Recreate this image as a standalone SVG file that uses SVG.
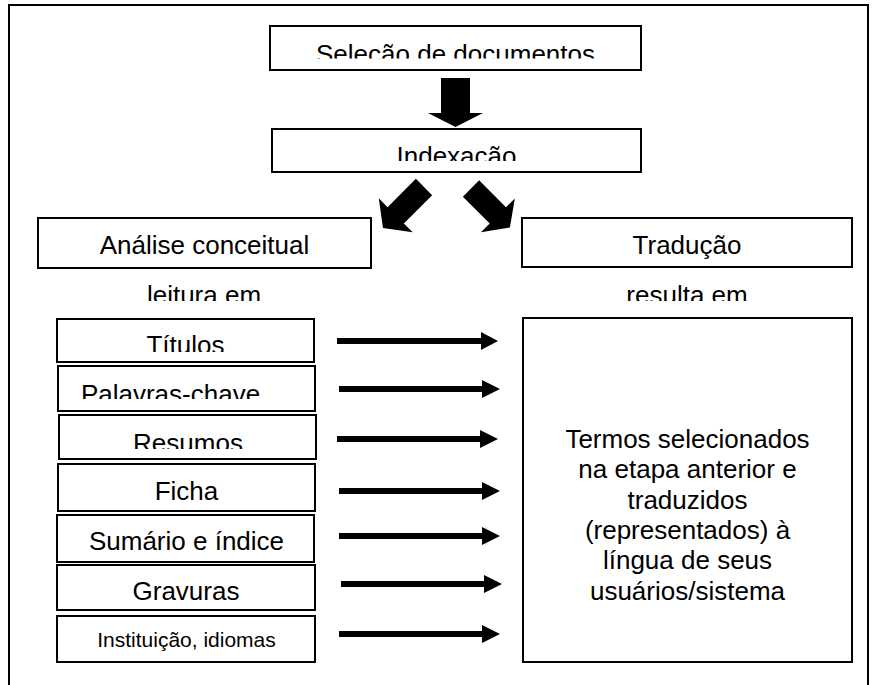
<svg xmlns="http://www.w3.org/2000/svg" width="874" height="685" viewBox="0 0 874 685">
<style>
.box{fill:#fff;stroke:#000;stroke-width:2}
.t{font-family:"Liberation Sans",Arial,sans-serif;font-size:26px;fill:#000;text-anchor:middle}
.s{font-size:21px}
.arr{fill:#000}
</style>
<defs>
<clipPath id="c1"><rect x="260" y="20" width="400" height="38.5"/></clipPath>
<clipPath id="c2"><rect x="260" y="125" width="400" height="36"/></clipPath>
<clipPath id="c3"><rect x="0" y="270" width="874" height="31"/></clipPath>
<clipPath id="c4"><rect x="50" y="315" width="280" height="37"/></clipPath>
<clipPath id="c5"><rect x="50" y="365" width="280" height="34"/></clipPath>
<clipPath id="c6"><rect x="50" y="414" width="280" height="35"/></clipPath>
</defs>
<rect x="9" y="5" width="859" height="700" fill="none" stroke="#000" stroke-width="2"/>

<g id="selecao">
<rect class="box" x="270" y="26" width="371" height="44"/>
<text class="t" x="455.5" y="63" clip-path="url(#c1)">Seleção de documentos</text>
</g>
<g id="indexacao">
<rect class="box" x="272" y="129" width="369" height="43"/>
<text class="t" x="456.5" y="165" clip-path="url(#c2)">Indexação</text>
</g>
<g id="analise">
<rect class="box" x="38" y="218" width="333" height="50"/>
<text class="t" x="204.5" y="254">Análise conceitual</text>
</g>
<g id="traducao">
<rect class="box" x="522" y="218" width="330" height="49"/>
<text class="t" x="687" y="254">Tradução</text>
</g>
<g id="leitura">
<text class="t" x="204" y="304" clip-path="url(#c3)">leitura em</text>
</g>
<g id="resulta">
<text class="t" x="687" y="304" clip-path="url(#c3)">resulta em</text>
</g>
<g id="titulos">
<rect class="box" x="57" y="319" width="257" height="43"/>
<text class="t" x="185.5" y="354" clip-path="url(#c4)">Títulos</text>
</g>
<g id="palavras">
<rect class="box" x="58" y="366" width="257" height="45"/>
<text class="t" x="170.5" y="403" clip-path="url(#c5)">Palavras-chave</text>
</g>
<g id="resumos">
<rect class="box" x="59" y="415" width="257" height="44"/>
<text class="t" x="188" y="452" clip-path="url(#c6)">Resumos</text>
</g>
<g id="ficha">
<rect class="box" x="58" y="464" width="257" height="47"/>
<text class="t" x="186.5" y="500">Ficha</text>
</g>
<g id="sumario">
<rect class="box" x="57" y="515" width="257" height="47"/>
<text class="t" x="186.5" y="550">Sumário e índice</text>
</g>
<g id="gravuras">
<rect class="box" x="57" y="565" width="258" height="45"/>
<text class="t" x="186" y="600">Gravuras</text>
</g>
<g id="instituicao">
<rect class="box" x="57" y="616" width="258" height="46"/>
<text class="t s" x="186.5" y="647">Instituição, idiomas</text>
</g>
<g id="termos">
<rect class="box" x="523" y="318" width="329" height="344"/>
<text class="t" x="687.5" y="448">Termos selecionados</text>
<text class="t" x="687.5" y="478">na etapa anterior e</text>
<text class="t" x="687.5" y="508.5">traduzidos</text>
<text class="t" x="687.5" y="539">(representados) à</text>
<text class="t" x="687.5" y="569">língua de seus</text>
<text class="t" x="687.5" y="599.5">usuários/sistema</text>
</g>

<g id="connectors">
<polygon class="arr" points="441,78 470,78 470,113 483,113 455.5,127 428,113 441,113"/>
<polygon class="arr" transform="translate(424,187) rotate(135)" points="0,-11.5 40,-11.5 40,-24 58,0 40,24 40,11.5 0,11.5"/>
<polygon class="arr" transform="translate(471,188.5) rotate(45)" points="0,-11.5 38,-11.5 38,-24 55,0 38,24 38,11.5 0,11.5"/>
<polygon class="arr" points="337,338 481,338 481,332 498,341 481,350 481,344 337,344"/>
<polygon class="arr" points="339,386 482,386 482,380 500,389 482,398 482,392 339,392"/>
<polygon class="arr" points="337,436 480,436 480,430 498,439 480,448 480,442 337,442"/>
<polygon class="arr" points="339,488 482,488 482,482 500,491 482,500 482,494 339,494"/>
<polygon class="arr" points="339,533 482,533 482,527 500,536 482,545 482,539 339,539"/>
<polygon class="arr" points="341,581 484,581 484,575 502,584 484,593 484,587 341,587"/>
<polygon class="arr" points="339,631 482,631 482,625 500,634 482,643 482,637 339,637"/>
</g>
</svg>
